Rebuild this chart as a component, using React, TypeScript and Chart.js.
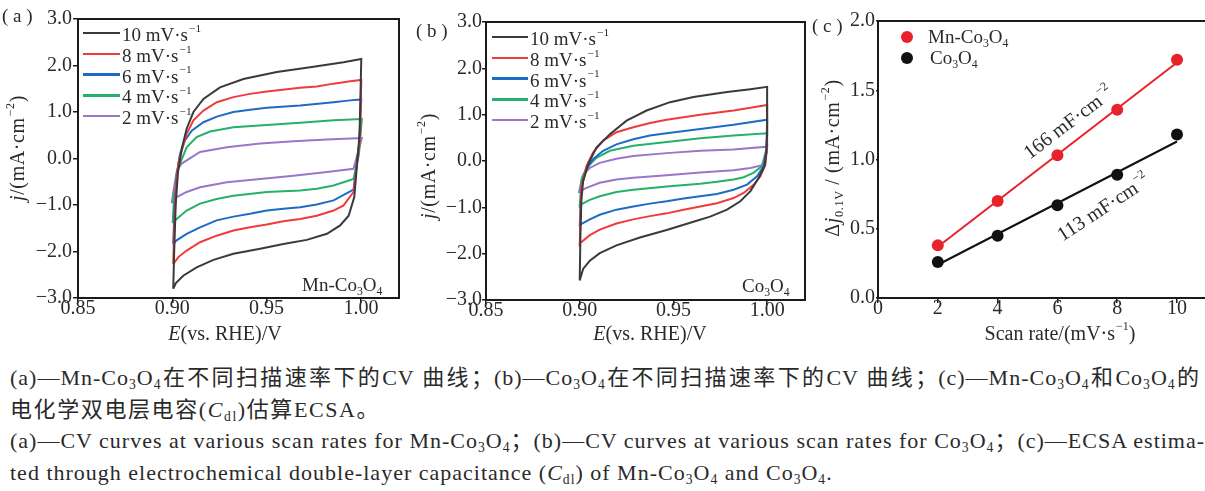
import React, { useEffect, useRef } from "react";
import { Chart, registerables } from "chart.js";

Chart.register(...registerables);

type Pt = [number, number];

// ---------------- data ----------------
const scanRateLabels = ["10", "8", "6", "4", "2"];
const cvColors = ["#3a3a3a", "#f03b3b", "#1d6cc4", "#26b068", "#9877c9"];

const cvXTicks = [0.85, 0.9, 0.95, 1.0];
const cvYTicks = [-3, -2, -1, 0, 1, 2, 3];

// Panel (a): Mn-Co3O4, CV loops [E (V), j (mA/cm2)]
const mn10: Pt[] = [
  [0.9005, -2.8], [0.901, -2.0], [0.9018, -1.0], [0.903, -0.3], [0.905, 0.21], [0.9076, 0.64],
  [0.9112, 1.0], [0.9165, 1.28], [0.9253, 1.53], [0.9377, 1.71], [0.9554, 1.86], [0.9731, 1.96],
  [0.9908, 2.07], [1.0002, 2.14], [0.9993, 0.53], [0.9965, -0.83], [0.9935, -1.23], [0.989, -1.44],
  [0.982, -1.62], [0.9713, -1.75], [0.9589, -1.84], [0.9466, -1.94], [0.9324, -2.05], [0.9218, -2.18],
  [0.9129, -2.34], [0.9058, -2.52], [0.9019, -2.68], [0.9005, -2.8],
];
const mn8: Pt[] = [
  [0.9005, -2.27], [0.901, -1.5], [0.902, -0.6], [0.9032, -0.1], [0.905, 0.17], [0.9076, 0.53],
  [0.9112, 0.82], [0.9165, 1.03], [0.9236, 1.21], [0.9324, 1.32], [0.9412, 1.39], [0.9501, 1.44],
  [0.9678, 1.52], [0.9766, 1.55], [0.9855, 1.61], [0.9943, 1.66], [1.0002, 1.69], [0.9995, 0.4],
  [0.9961, -0.72], [0.9908, -1.01], [0.9855, -1.12], [0.9766, -1.23], [0.9678, -1.3], [0.9589, -1.35],
  [0.9501, -1.42], [0.9412, -1.48], [0.9324, -1.55], [0.9235, -1.66], [0.9147, -1.8], [0.9076, -1.98],
  [0.9032, -2.12], [0.9005, -2.27],
];
const mn6: Pt[] = [
  [0.9005, -1.84], [0.9012, -1.0], [0.9025, -0.3], [0.9041, 0.1], [0.9067, 0.39], [0.9103, 0.6],
  [0.9165, 0.78], [0.9236, 0.9], [0.9324, 1.0], [0.9412, 1.05], [0.9501, 1.09], [0.9678, 1.14],
  [0.9855, 1.21], [0.9943, 1.25], [1.0002, 1.27], [0.999, 0.3], [0.9961, -0.67], [0.9855, -0.9],
  [0.9766, -0.99], [0.9678, -1.05], [0.9589, -1.08], [0.9501, -1.12], [0.9412, -1.19], [0.9324, -1.25],
  [0.9235, -1.33], [0.9147, -1.48], [0.9076, -1.62], [0.9023, -1.76], [0.9005, -1.84],
];
const mn4: Pt[] = [
  [0.9002, -1.39], [0.901, -0.8], [0.9025, -0.3], [0.9041, -0.11], [0.9076, 0.24], [0.9129, 0.46],
  [0.92, 0.58], [0.9324, 0.67], [0.9501, 0.72], [0.9678, 0.77], [0.9855, 0.82], [1.0005, 0.85],
  [0.999, 0.1], [0.9961, -0.44], [0.9855, -0.58], [0.9766, -0.65], [0.9678, -0.69], [0.9501, -0.72],
  [0.9324, -0.8], [0.9235, -0.87], [0.9147, -0.97], [0.9076, -1.12], [0.9023, -1.3], [0.9002, -1.39],
];
const mn2: Pt[] = [
  [0.8997, -0.96], [0.901, -0.6], [0.9025, -0.25], [0.905, -0.11], [0.9147, 0.14], [0.9289, 0.24],
  [0.9466, 0.32], [0.9643, 0.37], [0.982, 0.41], [1.0005, 0.44], [0.9961, -0.22], [0.982, -0.29],
  [0.9643, -0.37], [0.9466, -0.44], [0.9289, -0.51], [0.9147, -0.62], [0.9076, -0.72], [0.9023, -0.83],
  [0.8997, -0.96],
];

// Panel (b): Co3O4
const co10: Pt[] = [
  [0.9, -2.58], [0.9004, -1.56], [0.9009, -0.84], [0.9018, -0.44], [0.9045, -0.07], [0.9089, 0.29],
  [0.9161, 0.58], [0.925, 0.87], [0.9357, 1.09], [0.9482, 1.27], [0.9607, 1.38], [0.9786, 1.49],
  [0.9911, 1.55], [1.0, 1.6], [1.0, 0.62], [0.9996, 0.18], [0.9986, -0.11], [0.9955, -0.36],
  [0.9911, -0.65], [0.9857, -0.87], [0.9786, -1.05], [0.9696, -1.2], [0.9607, -1.31], [0.9464, -1.49],
  [0.9321, -1.65], [0.9196, -1.82], [0.9107, -1.99], [0.9054, -2.15], [0.9018, -2.33], [0.9, -2.58],
];
const co8: Pt[] = [
  [0.9, -1.85], [0.9004, -1.13], [0.9009, -0.55], [0.9036, -0.11], [0.9071, 0.18], [0.9125, 0.44],
  [0.9196, 0.62], [0.9286, 0.73], [0.9375, 0.82], [0.9464, 0.89], [0.9643, 1.0], [0.9821, 1.09],
  [0.9911, 1.15], [1.0, 1.21], [1.0, 0.33], [0.9991, -0.07], [0.9964, -0.33], [0.9929, -0.51],
  [0.9875, -0.69], [0.9821, -0.8], [0.9732, -0.91], [0.9643, -0.98], [0.9554, -1.05], [0.9464, -1.13],
  [0.9375, -1.19], [0.9286, -1.26], [0.9196, -1.35], [0.9107, -1.48], [0.9054, -1.6], [0.9, -1.78],
  [0.9, -1.85],
];
const co6: Pt[] = [
  [0.9, -1.42], [0.9009, -0.55], [0.9036, -0.18], [0.9071, 0.04], [0.9125, 0.22], [0.9196, 0.36],
  [0.9286, 0.47], [0.9375, 0.55], [0.9464, 0.6], [0.9643, 0.69], [0.9821, 0.78], [1.0, 0.89],
  [0.9996, 0.25], [0.9982, -0.11], [0.9946, -0.33], [0.9893, -0.51], [0.9821, -0.62], [0.9732, -0.71],
  [0.9643, -0.76], [0.9554, -0.81], [0.9464, -0.87], [0.9375, -0.92], [0.9286, -0.98], [0.9196, -1.05],
  [0.9107, -1.16], [0.9054, -1.26], [0.9, -1.38], [0.9, -1.42],
];
const co4: Pt[] = [
  [0.9, -1.02], [0.9009, -0.4], [0.9036, -0.15], [0.9089, 0.07], [0.9161, 0.22], [0.9286, 0.33],
  [0.9464, 0.41], [0.9643, 0.49], [0.9821, 0.55], [1.0, 0.6], [0.9996, 0.18], [0.9973, -0.11],
  [0.9929, -0.25], [0.9875, -0.35], [0.9821, -0.4], [0.9732, -0.45], [0.9643, -0.49], [0.9464, -0.55],
  [0.9286, -0.62], [0.9196, -0.67], [0.9107, -0.76], [0.9054, -0.84], [0.9, -0.95], [0.9, -1.02],
];
const co2: Pt[] = [
  [0.8995, -0.69], [0.9018, -0.29], [0.9054, -0.15], [0.9107, -0.04], [0.9196, 0.05], [0.9286, 0.11],
  [0.9464, 0.17], [0.9643, 0.22], [0.9821, 0.25], [1.0, 0.31], [0.9973, -0.09], [0.9911, -0.15],
  [0.9821, -0.2], [0.9643, -0.25], [0.9464, -0.31], [0.9286, -0.36], [0.9196, -0.4], [0.9107, -0.47],
  [0.9036, -0.58], [0.9, -0.65], [0.8995, -0.69],
];

// Panel (c): ECSA
const scanXTicks = [0, 2, 4, 6, 8, 10];
const scanYTicks = [0, 0.5, 1.0, 1.5, 2.0];
const scanRates = [2, 4, 6, 8, 10];
const mnCoDeltaJ = [0.38, 0.7, 1.03, 1.36, 1.72];
const coDeltaJ = [0.26, 0.45, 0.67, 0.89, 1.18];
const fitX = [2, 10];
const mnCoFit = [0.37, 1.7];
const coFit = [0.24, 1.13];

// ---------------- styling ----------------
const SERIF = '"Liberation Serif", "Times New Roman", serif';
const CAPTION_FONT = '"Liberation Serif", "Noto Sans CJK SC", serif';
const TEXT = "#2a2a2a";
const RED = "#e8222b";
const BLACK = "#111111";

const framePlugin = {
  id: "frame",
  afterDraw(chart: any) {
    const { ctx, chartArea: a } = chart;
    ctx.save();
    ctx.strokeStyle = "#1a1a1a";
    ctx.lineWidth = 2;
    ctx.strokeRect(a.left, a.top, a.right - a.left, a.bottom - a.top);
    ctx.restore();
  },
};

function axis(o: {
  min: number; max: number; ticks: number[]; fmt: (v: number) => string;
  size: number; isX: boolean; tickLen: number; pad: number;
}) {
  return {
    type: "linear",
    min: o.min,
    max: o.max,
    afterBuildTicks: (s: any) => {
      s.ticks = o.ticks.map((v) => ({ value: v }));
    },
    afterFit: (s: any) => {
      if (o.isX) s.height = o.size;
      else s.width = o.size;
    },
    ticks: {
      callback: (v: any) => o.fmt(Number(v)),
      color: TEXT,
      font: { family: SERIF, size: 20, lineHeight: 1.2 },
      padding: o.pad,
      maxRotation: 0,
      minRotation: 0,
      autoSkip: false,
    },
    grid: {
      drawOnChartArea: false,
      drawTicks: true,
      tickLength: o.tickLen,
      color: "#1a1a1a",
      lineWidth: 1.5,
    },
    border: { display: false },
  };
}

const fmtJ = (v: number) => (v < 0 ? "\u2212" : "") + Math.abs(v).toFixed(1);

function cvConfig(curves: Pt[][], g: { top: number; right: number; yW: number; xH: number; yTick: number; yPad: number }) {
  return {
    type: "scatter",
    data: {
      datasets: curves.map((c, i) => ({
        label: scanRateLabels[i] + " mV/s",
        data: c.map(([x, y]) => ({ x, y })),
        showLine: true,
        borderColor: cvColors[i],
        backgroundColor: cvColors[i],
        borderWidth: 2,
        pointRadius: 0,
        pointHoverRadius: 0,
        tension: 0,
      })),
    },
    options: {
      responsive: false,
      animation: false,
      events: [],
      layout: { padding: { top: g.top, right: g.right, left: 0, bottom: 0 } },
      plugins: { legend: { display: false }, tooltip: { enabled: false } },
      scales: {
        x: axis({ min: 0.85, max: 1.0202, ticks: cvXTicks, fmt: (v) => v.toFixed(2), size: g.xH, isX: true, tickLen: 5, pad: -6 }),
        y: axis({ min: -3, max: 3, ticks: cvYTicks, fmt: fmtJ, size: g.yW, isX: false, tickLen: g.yTick, pad: g.yPad }),
      },
    },
    plugins: [framePlugin],
  };
}

function ecsaConfig() {
  return {
    type: "scatter",
    data: {
      datasets: [
        {
          label: "Mn-Co3O4",
          data: scanRates.map((x, i) => ({ x, y: mnCoDeltaJ[i] })),
          pointRadius: 6,
          pointBackgroundColor: RED,
          pointBorderWidth: 0,
          showLine: false,
        },
        {
          label: "Co3O4",
          data: scanRates.map((x, i) => ({ x, y: coDeltaJ[i] })),
          pointRadius: 6,
          pointBackgroundColor: BLACK,
          pointBorderWidth: 0,
          showLine: false,
        },
        {
          label: "Mn-Co3O4 fit",
          data: fitX.map((x, i) => ({ x, y: mnCoFit[i] })),
          showLine: true,
          borderColor: RED,
          borderWidth: 2,
          pointRadius: 0,
        },
        {
          label: "Co3O4 fit",
          data: fitX.map((x, i) => ({ x, y: coFit[i] })),
          showLine: true,
          borderColor: BLACK,
          borderWidth: 2,
          pointRadius: 0,
        },
      ],
    },
    options: {
      responsive: false,
      animation: false,
      events: [],
      layout: { padding: { top: 21, right: 5, left: 0, bottom: 0 } },
      plugins: { legend: { display: false }, tooltip: { enabled: false } },
      scales: {
        x: axis({ min: 0, max: 11.07, ticks: scanXTicks, fmt: (v) => String(v), size: 42, isX: true, tickLen: 5, pad: -6 }),
        y: axis({ min: 0, max: 2, ticks: scanYTicks, fmt: (v) => v.toFixed(1), size: 65, isX: false, tickLen: 2, pad: 1 }),
      },
    },
    plugins: [framePlugin],
  };
}

function ChartCanvas(p: { left: number; top: number; width: number; height: number; make: () => any }) {
  const ref = useRef<HTMLCanvasElement | null>(null);
  useEffect(() => {
    const chart = new Chart(ref.current as HTMLCanvasElement, p.make());
    return () => chart.destroy();
  }, []);
  return (
    <canvas
      ref={ref}
      width={p.width}
      height={p.height}
      style={{ position: "absolute", left: p.left, top: p.top, width: p.width, height: p.height }}
    />
  );
}

const Sup = ({ children }: any) => (
  <span style={{ fontSize: "0.6em", position: "relative", top: "-0.8em", marginLeft: 1 }}>{children}</span>
);
const Sub = ({ children }: any) => (
  <span style={{ fontSize: "0.62em", position: "relative", top: "0.3em" }}>{children}</span>
);
const Co3O4 = () => (
  <>
    Co<Sub>3</Sub>O<Sub>4</Sub>
  </>
);

function T(p: { x: number; y: number; size?: number; center?: boolean; rotate?: number; children: any; style?: any }) {
  return (
    <div
      style={{
        position: "absolute",
        left: p.x,
        top: p.y,
        fontSize: p.size ?? 19,
        lineHeight: 1,
        whiteSpace: "nowrap",
        transform: `translate(${p.center ? "-50%" : "0"}, -50%) rotate(${p.rotate ?? 0}deg)`,
        ...(p.style || {}),
      }}
    >
      {p.children}
    </div>
  );
}

function CvLegend({ x, y0, textX }: { x: number; y0: number; textX: number }) {
  const rowGap = 20.8;
  return (
    <>
      {scanRateLabels.map((lab, i) => (
        <React.Fragment key={lab}>
          <div
            style={{
              position: "absolute",
              left: x,
              top: y0 + i * rowGap - 1.25,
              width: textX - x - 2,
              height: 2.5,
              background: cvColors[i],
            }}
          />
          <T x={textX} y={y0 + i * rowGap + 1}>
            {lab} mV·s<Sup>−1</Sup>
          </T>
        </React.Fragment>
      ))}
    </>
  );
}

export default function App() {
  const captionLine: any = {
    position: "absolute",
    left: 10,
    width: 1190,
    fontSize: 22,
    lineHeight: "24px",
    letterSpacing: 1.0,
    whiteSpace: "nowrap",
    fontFamily: CAPTION_FONT,
  };
  const justified = { textAlign: "justify", textAlignLast: "justify" };
  const yTitle = { letterSpacing: 0.6 };
  return (
    <div
      style={{
        position: "absolute",
        left: 0,
        top: 0,
        width: 1205,
        height: 491,
        overflow: "hidden",
        background: "#fff",
        fontFamily: SERIF,
        color: TEXT,
      }}
    >
      <ChartCanvas left={0} top={0} width={403} height={340} make={() => cvConfig([mn10, mn8, mn6, mn4, mn2], { top: 19, right: 4, yW: 78, xH: 42, yTick: 5, yPad: 1 })} />
      <ChartCanvas left={403} top={0} width={410} height={340} make={() => cvConfig([co10, co8, co6, co4, co2], { top: 22, right: 8, yW: 83, xH: 40, yTick: 4, yPad: 0 })} />
      <ChartCanvas left={813} top={0} width={402} height={340} make={ecsaConfig} />

      {/* panel (a) texts */}
      <T x={2} y={15}>( a )</T>
      <T x={17} y={148} center rotate={-90} size={20} style={yTitle}>
        <i>j</i>/(mA·cm<Sup>−2</Sup>)
      </T>
      <T x={225} y={333} center size={20}>
        <i>E</i>(vs. RHE)/V
      </T>
      <CvLegend x={83} y0={33} textX={122} />
      <T x={302} y={284}>
        Mn-<Co3O4 />
      </T>

      {/* panel (b) texts */}
      <T x={416} y={30}>( b )</T>
      <T x={428} y={166} center rotate={-90} size={20} style={yTitle}>
        <i>j</i>/(mA·cm<Sup>−2</Sup>)
      </T>
      <T x={650} y={333} center size={20}>
        <i>E</i>(vs. RHE)/V
      </T>
      <CvLegend x={492} y0={37} textX={530} />
      <T x={742} y={285}>
        <Co3O4 />
      </T>

      {/* panel (c) texts */}
      <T x={812} y={25}>( c )</T>
      <T x={832} y={158} center rotate={-90} size={20} style={yTitle}>
        Δ<i>j</i>
        <Sub>0.1V</Sub> / (mA·cm<Sup>−2</Sup>)
      </T>
      <T x={1060} y={333} center size={20}>
        Scan rate/(mV·s<Sup>−1</Sup>)
      </T>
      <div style={{ position: "absolute", left: 901, top: 31, width: 12, height: 12, borderRadius: 6, background: RED }} />
      <div style={{ position: "absolute", left: 901, top: 52, width: 12, height: 12, borderRadius: 6, background: BLACK }} />
      <T x={928} y={36}>
        Mn-<Co3O4 />
      </T>
      <T x={930} y={57}>
        <Co3O4 />
      </T>
      <T x={1068} y={122} center rotate={-37} size={20}>
        166 mF·cm<Sup>−2</Sup>
      </T>
      <T x={1103} y={207} center rotate={-33} size={20}>
        113 mF·cm<Sup>−2</Sup>
      </T>

      {/* caption */}
      <div style={{ ...captionLine, top: 366, ...justified }}>
        (a)—Mn-<Co3O4 />在不同扫描速率下的CV 曲线；(b)—<Co3O4 />在不同扫描速率下的CV 曲线；(c)—Mn-<Co3O4 />和<Co3O4 />的
      </div>
      <div style={{ ...captionLine, top: 398, letterSpacing: 1.6 }}>
        电化学双电层电容(<i>C</i>
        <Sub>dl</Sub>)估算ECSA。
      </div>
      <div style={{ ...captionLine, top: 429, ...justified }}>
        (a)—CV curves at various scan rates for Mn-<Co3O4 />；(b)—CV curves at various scan rates for <Co3O4 />；(c)—ECSA estima-
      </div>
      <div style={{ ...captionLine, top: 461 }}>
        ted through electrochemical double-layer capacitance (<i>C</i>
        <Sub>dl</Sub>) of Mn-<Co3O4 /> and <Co3O4 />.
      </div>
    </div>
  );
}
